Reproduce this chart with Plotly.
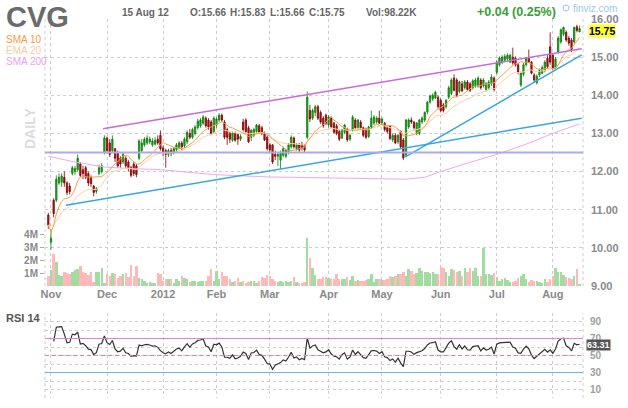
import plotly.graph_objects as go
import pandas as pd

# CVG daily, 31 Oct 2011 - 15 Aug 2012
holidays = ['2011-11-24', '2011-12-26', '2012-01-02', '2012-01-16',
            '2012-02-20', '2012-04-06', '2012-05-28', '2012-07-04']
dates = pd.bdate_range('2011-10-31', '2012-08-15')
dates = dates[~dates.isin(pd.to_datetime(holidays))]

opens = [10.86, 10.15, 11.25, 11.25, 11.70, 11.72, 11.85, 11.70, 11.62, 11.95,
         12.00, 12.05, 12.20, 12.05, 12.10, 11.95, 11.85, 11.62, 11.48, 11.95,
         12.00, 12.50, 12.88, 12.75, 12.55, 12.60, 12.50, 12.35, 12.25, 12.35,
         12.25, 12.10, 12.20, 12.15, 12.35, 12.55, 12.70, 12.75, 12.78, 12.70,
         12.72, 12.85, 12.95, 12.62, 12.55, 12.45, 12.55, 12.50, 12.58, 12.62,
         12.75, 12.68, 12.78, 13.00, 12.90, 13.00, 13.15, 13.20, 13.27, 13.40,
         13.35, 13.30, 13.05, 13.22, 13.35, 13.48, 13.30, 13.10, 13.00, 12.82,
         13.00, 12.97, 12.85, 13.30, 13.35, 13.15, 12.90, 12.95, 13.05, 13.20,
         13.15, 13.00, 12.90, 12.70, 12.70, 12.45, 12.40, 12.30, 12.43, 12.40,
         12.50, 12.65, 12.88, 12.60, 12.70, 12.70, 12.68, 12.90, 13.60, 13.40,
         13.55, 13.70, 13.55, 13.40, 13.48, 13.22, 13.40, 13.27, 13.20, 13.05,
         12.88, 13.03, 13.10, 12.85, 13.10, 13.35, 13.15, 13.30, 13.15, 13.10,
         12.92, 13.17, 13.27, 13.30, 13.40, 13.28, 13.27, 13.15, 13.20, 12.83,
         12.95, 12.78, 13.05, 12.83, 12.43, 13.17, 13.35, 13.30, 13.00, 13.00,
         13.30, 13.35, 13.56, 13.82, 13.90, 13.93, 13.95, 13.87, 13.75, 13.70,
         13.95, 14.05, 14.45, 14.40, 14.10, 14.30, 14.20, 14.35, 14.30, 14.20,
         14.25, 14.25, 14.40, 14.25, 14.15, 14.20, 14.30, 14.45, 14.60, 14.80,
         14.87, 14.92, 14.95, 14.87, 15.00, 14.97, 14.80, 14.27, 14.55, 14.80,
         14.97, 14.87, 14.53, 14.33, 14.53, 14.58, 14.65, 14.97, 15.27, 15.05,
         14.72, 15.13, 15.40, 15.60, 15.65, 15.50, 15.45, 15.40, 15.80, 15.66]

highs = [10.92, 10.48, 11.30, 11.90, 11.95, 11.95, 12.00, 11.75, 11.70, 12.15,
         12.15, 12.45, 12.25, 12.15, 12.15, 12.00, 11.90, 11.65, 11.60, 12.18,
         12.22, 12.95, 12.92, 12.85, 12.95, 12.62, 12.55, 12.40, 12.50, 12.40,
         12.30, 12.15, 12.25, 12.20, 12.85, 12.85, 12.90, 12.95, 12.92, 12.88,
         12.90, 12.95, 13.08, 12.68, 12.60, 12.60, 12.62, 12.65, 12.75, 12.80,
         12.80, 12.90, 13.08, 13.12, 13.15, 13.22, 13.38, 13.40, 13.48, 13.45,
         13.40, 13.35, 13.45, 13.42, 13.53, 13.52, 13.35, 13.15, 13.05, 13.05,
         13.05, 13.00, 12.98, 13.38, 13.40, 13.20, 13.12, 13.15, 13.25, 13.25,
         13.20, 13.05, 12.95, 12.75, 12.72, 12.55, 12.50, 12.55, 12.65, 12.60,
         12.75, 12.95, 12.92, 12.75, 12.75, 12.78, 12.72, 14.10, 13.75, 13.65,
         13.75, 13.75, 13.60, 13.45, 13.52, 13.48, 13.45, 13.30, 13.25, 13.10,
         13.12, 13.25, 13.15, 13.00, 13.48, 13.40, 13.38, 13.35, 13.18, 13.15,
         13.20, 13.60, 13.48, 13.45, 13.60, 13.42, 13.30, 13.20, 13.22, 13.00,
         13.00, 12.98, 13.08, 12.88, 13.38, 13.40, 13.42, 13.32, 13.30, 13.38,
         13.45, 13.58, 13.85, 14.02, 14.05, 14.12, 14.00, 13.92, 13.80, 13.90,
         14.25, 14.45, 14.55, 14.45, 14.38, 14.38, 14.40, 14.40, 14.35, 14.42,
         14.45, 14.50, 14.45, 14.45, 14.35, 14.40, 14.55, 14.50, 14.92, 15.02,
         15.05, 15.08, 15.10, 15.08, 15.25, 15.02, 14.85, 14.62, 14.85, 15.00,
         15.20, 14.90, 14.58, 14.55, 14.70, 14.78, 14.92, 15.05, 15.65, 15.10,
         15.00, 15.55, 15.75, 15.80, 15.70, 15.55, 15.50, 15.80, 15.85, 15.83]

lows = [10.50, 9.95, 10.80, 11.20, 11.65, 11.60, 11.60, 11.38, 11.40, 11.90,
        11.92, 12.00, 11.85, 11.80, 11.80, 11.62, 11.60, 11.35, 11.42, 11.90,
        11.95, 12.45, 12.48, 12.38, 12.50, 12.25, 12.10, 12.10, 12.20, 12.08,
        12.00, 11.85, 11.88, 11.85, 12.30, 12.50, 12.65, 12.70, 12.72, 12.65,
        12.68, 12.70, 12.55, 12.40, 12.10, 12.38, 12.40, 12.45, 12.52, 12.58,
        12.55, 12.62, 12.72, 12.85, 12.85, 12.95, 13.10, 13.15, 13.22, 13.15,
        13.10, 12.95, 13.00, 13.15, 13.30, 13.30, 12.85, 12.70, 12.75, 12.78,
        12.78, 12.70, 12.80, 13.05, 13.00, 12.75, 12.80, 12.90, 13.00, 13.00,
        12.95, 12.80, 12.55, 12.50, 12.20, 12.30, 12.15, 12.05, 12.38, 12.35,
        12.45, 12.60, 12.60, 12.55, 12.50, 12.55, 12.50, 12.85, 13.30, 13.35,
        13.45, 13.35, 13.25, 13.15, 13.22, 13.15, 13.15, 13.00, 12.95, 12.80,
        12.85, 12.98, 12.78, 12.80, 13.05, 13.12, 13.10, 13.10, 12.90, 12.85,
        12.88, 13.12, 13.22, 13.25, 13.25, 13.22, 13.05, 13.00, 12.82, 12.78,
        12.72, 12.72, 12.60, 12.30, 12.40, 13.12, 13.25, 13.10, 12.95, 12.95,
        13.25, 13.30, 13.50, 13.78, 13.85, 13.90, 13.65, 13.55, 13.55, 13.65,
        13.90, 14.00, 14.10, 13.95, 14.05, 14.08, 14.15, 14.12, 14.08, 14.15,
        14.20, 14.20, 14.15, 14.20, 14.10, 14.15, 14.25, 14.10, 14.55, 14.75,
        14.82, 14.88, 14.90, 14.85, 14.80, 14.75, 14.55, 14.22, 14.50, 14.75,
        14.85, 14.55, 14.35, 14.28, 14.48, 14.55, 14.60, 14.70, 14.80, 14.65,
        14.68, 15.10, 15.35, 15.55, 15.40, 15.30, 15.13, 15.35, 15.65, 15.66]

closes = [10.60, 10.25, 10.90, 11.80, 11.85, 11.88, 11.70, 11.45, 11.48, 12.10,
          12.08, 12.35, 11.90, 11.95, 11.85, 11.70, 11.68, 11.45, 11.55, 12.10,
          12.15, 12.88, 12.55, 12.45, 12.85, 12.35, 12.15, 12.20, 12.45, 12.15,
          12.10, 11.90, 11.95, 11.92, 12.80, 12.75, 12.85, 12.88, 12.85, 12.80,
          12.82, 12.75, 12.60, 12.50, 12.45, 12.55, 12.48, 12.60, 12.70, 12.75,
          12.65, 12.85, 13.03, 12.90, 13.10, 13.17, 13.32, 13.35, 13.43, 13.20,
          13.17, 13.00, 13.40, 13.38, 13.48, 13.35, 12.90, 12.90, 12.85, 13.00,
          12.82, 12.85, 12.92, 13.10, 13.05, 12.78, 13.08, 13.10, 13.22, 13.03,
          13.00, 12.83, 12.60, 12.57, 12.25, 12.40, 12.45, 12.50, 12.60, 12.55,
          12.70, 12.90, 12.65, 12.70, 12.57, 12.62, 12.57, 13.95, 13.38, 13.60,
          13.70, 13.40, 13.30, 13.20, 13.27, 13.43, 13.17, 13.03, 13.00, 12.85,
          13.10, 13.22, 12.83, 12.95, 13.43, 13.15, 13.35, 13.15, 12.95, 12.90,
          13.17, 13.40, 13.43, 13.40, 13.27, 13.38, 13.10, 13.05, 12.87, 12.95,
          12.75, 12.95, 12.65, 12.36, 13.35, 13.35, 13.30, 13.15, 13.27, 13.35,
          13.40, 13.55, 13.82, 13.98, 14.00, 14.08, 13.70, 13.60, 13.60, 13.87,
          14.20, 14.40, 14.13, 14.00, 14.35, 14.12, 14.35, 14.15, 14.13, 14.38,
          14.40, 14.45, 14.20, 14.40, 14.30, 14.35, 14.48, 14.15, 14.87, 14.98,
          15.00, 15.02, 15.05, 15.05, 14.85, 14.80, 14.60, 14.58, 14.80, 14.97,
          14.87, 14.58, 14.40, 14.50, 14.65, 14.73, 14.87, 14.75, 14.87, 14.72,
          14.95, 15.50, 15.72, 15.78, 15.45, 15.37, 15.20, 15.78, 15.70, 15.75]

# volume in millions of shares
volumes = [0.77, 1.23, 2.49, 1.87, 0.85, 0.77, 1.10, 1.03, 0.90, 1.10,
           1.23, 1.28, 1.54, 1.08, 1.03, 0.82, 1.10, 0.31, 1.10, 1.10,
           1.41, 0.26, 0.90, 0.77, 1.03, 0.90, 0.64, 0.77, 0.90, 1.03,
           0.72, 1.59, 0.77, 1.54, 0.64, 0.56, 0.38, 0.26, 0.31, 0.26,
           0.26, 1.03, 0.90, 0.38, 0.56, 0.56, 0.56, 0.21, 0.56, 0.38,
           0.77, 0.64, 0.51, 0.31, 0.38, 0.38, 0.31, 0.38, 0.38, 0.38,
           0.77, 1.28, 0.38, 1.15, 0.51, 1.08, 0.77, 0.77, 0.51, 0.31,
           0.38, 0.64, 0.31, 0.38, 0.26, 0.31, 0.38, 0.38, 0.26, 0.38,
           0.72, 0.64, 0.85, 0.77, 0.51, 0.38, 0.33, 0.38, 0.31, 0.38,
           0.31, 0.38, 0.69, 0.31, 0.26, 0.26, 0.30, 3.72, 2.18, 1.41,
           0.82, 0.51, 0.51, 0.72, 0.72, 0.64, 0.51, 0.51, 0.95, 0.51,
           0.51, 0.56, 0.72, 0.46, 0.77, 0.38, 0.45, 0.38, 0.38, 0.46,
           0.56, 0.95, 0.31, 0.56, 0.51, 0.46, 0.46, 0.51, 0.77, 0.69,
           0.77, 0.90, 0.95, 1.08, 0.77, 1.33, 1.15, 0.95, 1.03, 1.41,
           1.15, 1.08, 1.08, 1.03, 1.08, 0.90, 0.90, 1.49, 1.41, 1.08,
           0.77, 1.28, 1.21, 1.08, 1.13, 0.77, 1.36, 1.08, 1.41, 1.15,
           1.41, 0.77, 0.77, 2.95, 0.90, 0.90, 0.82, 1.03, 0.72, 0.38,
           0.51, 0.64, 0.44, 0.31, 0.31, 0.38, 0.64, 0.77, 0.90, 0.51,
           0.31, 0.46, 0.38, 0.38, 0.31, 0.26, 0.51, 0.31, 0.51, 0.77,
           1.41, 1.08, 1.08, 0.82, 0.69, 0.64, 0.56, 0.77, 1.28, 0.10]

# SMA 200 read at a few trading-day positions
sma200_days = [0, 10, 21, 30, 42, 62, 82, 104, 116, 125, 134, 141, 147, 156, 168, 179, 189, 199]
sma200_vals = [12.40, 12.25, 12.12, 12.08, 12.05, 11.92, 11.86, 11.83, 11.83, 11.80,
               11.80, 11.85, 12.00, 12.20, 12.45, 12.72, 13.00, 13.25]

# drawn trend lines: (day positions, prices)
upper_trend = ([20.5, 199.8], [13.12, 15.22])
lower_trend = ([6.6, 199.8], [11.12, 13.40])
may_trend = ([133.6, 199.8], [12.38, 15.06])
support_level = 12.50

month_labels = ['Nov', 'Dec', '2012', 'Feb', 'Mar', 'Apr', 'May', 'Jun', 'Jul', 'Aug']
price_ticks = [9, 10, 11, 12, 13, 14, 15, 16]
vol_ticks = [1, 2, 3, 4]
rsi_ticks = [10, 30, 50, 70, 90]
rsi_last = 63.31

header_date = '15 Aug 12'
header_ohlc = ['O:15.66', 'H:15.83', 'L:15.66', 'C:15.75']
header_vol = 'Vol:98.22K'
header_change = '+0.04 (0.25%)'

# ---- derived ----
pos = list(range(len(dates)))
month_pos = [i for i in pos if i > 0 and dates[i].month != dates[i - 1].month]

c = pd.Series(closes)
sma10 = c.rolling(10, min_periods=1).mean()
ema20 = c.ewm(span=20, adjust=False).mean()
delta = c.diff()
gain = delta.clip(lower=0).ewm(alpha=1 / 14, adjust=True).mean()
loss = (-delta.clip(upper=0)).ewm(alpha=1 / 14, adjust=True).mean()
rsi = 100 - 100 / (1 + gain / loss)
rsi[:2] = None

vol_colors = ['#a3dca3' if cl >= op else '#ffb9b9' for op, cl in zip(opens, closes)]

W, H = 628, 408
def px(x):
    return x / W
def py(y):
    return 1 - y / H

FONT = 'Arial, Liberation Sans, sans-serif'
GRID = '#cdcdcd'
DASH = '3px,3px'

fig = go.Figure()
fig.add_trace(go.Bar(x=pos, y=[v * 1e6 for v in volumes], marker_color=vol_colors,
                     marker_line_width=0, width=0.9, yaxis='y'))
fig.add_trace(go.Scatter(x=sma200_days, y=sma200_vals, mode='lines', yaxis='y2',
                         line=dict(color='#f2a6ee', width=1)))
fig.add_trace(go.Scatter(x=pos, y=ema20, mode='lines', yaxis='y2',
                         line=dict(color='#fcd0a4', width=1)))
fig.add_trace(go.Scatter(x=pos, y=sma10, mode='lines', yaxis='y2',
                         line=dict(color='#f8a050', width=1)))
fig.add_trace(go.Candlestick(x=pos, open=opens, high=highs, low=lows, close=closes, yaxis='y2',
                             whiskerwidth=0,
                             increasing=dict(line=dict(color='#0a7a0a', width=0.8), fillcolor='#19b519'),
                             decreasing=dict(line=dict(color='#7a0000', width=0.8), fillcolor='#cc1414')))
fig.add_trace(go.Scatter(x=pos, y=rsi, mode='lines', xaxis='x2', yaxis='y3',
                         line=dict(color='#333333', width=1.2)))

shapes = []
for xs, ys, col in [(upper_trend[0], upper_trend[1], '#c86ad8'),
                    (lower_trend[0], lower_trend[1], '#3aa6e0'),
                    (may_trend[0], may_trend[1], '#3aa6e0')]:
    shapes.append(dict(type='line', xref='x', yref='y2', x0=xs[0], x1=xs[1], y0=ys[0], y1=ys[1],
                       line=dict(color=col, width=1.5)))
shapes.append(dict(type='line', xref='x domain', yref='y2', x0=0, x1=1, y0=support_level, y1=support_level,
                   line=dict(color='#aaaaec', width=2)))
# rsi levels
shapes.append(dict(type='line', xref='x2 domain', yref='y3', x0=0, x1=1, y0=70, y1=70,
                   line=dict(color='#de82e0', width=1.2)))
shapes.append(dict(type='line', xref='x2 domain', yref='y3', x0=0, x1=1, y0=50, y1=50,
                   line=dict(color='#f08080', width=1, dash='4px,3px')))
shapes.append(dict(type='line', xref='x2 domain', yref='y3', x0=0, x1=1, y0=30, y1=30,
                   line=dict(color='#6ab6e6', width=1.2)))
# dashed frame sides
for xa, ya in [('x', 'y2'), ('x2', 'y3')]:
    for xv in [0, 1]:
        shapes.append(dict(type='line', xref=xa + ' domain', yref=ya + ' domain', x0=xv, x1=xv, y0=0, y1=1,
                           layer='below', line=dict(color=GRID, width=1, dash=DASH)))
# finviz logo mark
shapes.append(dict(type='circle', xref='paper', yref='paper', x0=px(563), x1=px(569), y0=py(11), y1=py(5),
                   line=dict(color='#9cc8e8', width=1)))

ann = []
def txt(x, y, s, size, color, bold=False, xanchor='left', **kw):
    ann.append(dict(xref='paper', yref='paper', x=px(x), y=py(y), text=s, showarrow=False,
                    xanchor=xanchor, yanchor='middle',
                    font=dict(family=FONT, size=size, color=color, weight='bold' if bold else 'normal'), **kw))

txt(4, 17, 'CVG', 29, '#6b6b6b', True)
txt(4, 40, 'SMA 10', 10, '#f99a45')
txt(4, 50.5, 'EMA 20', 10, '#f7cd9f')
txt(4, 61, 'SMA 200', 10, '#e9a4e9')
txt(30, 129, 'DAILY', 14, '#dcdcdc', True, xanchor='center', textangle=-90)
txt(120, 12, header_date, 10, '#666666', True)
for x0, s in zip([188, 228, 268, 307], header_ohlc):
    txt(x0, 12, s, 10, '#666666', True)
txt(364, 12, header_vol, 10, '#666666', True)
txt(475, 12, header_change, 12.5, '#36a036', True)
txt(571, 8, 'finviz.com', 10, '#9cc8e8')
txt(4, 318, 'RSI 14', 11, '#555555', True)

ann.append(dict(xref='paper', yref='y2', x=px(588), y=closes[-1], yshift=-2, text='<b>%.2f</b>' % closes[-1],
                showarrow=False, xanchor='left', yanchor='middle', bgcolor='#ffff2e', borderpad=0,
                font=dict(family=FONT, size=10.5, color='#000000')))
ann.append(dict(xref='paper', yref='y3', x=px(586), y=rsi_last, yshift=-1, text='<b>%.2f</b>' % rsi_last,
                showarrow=False, xanchor='left', yanchor='middle', bgcolor='#555555', borderpad=0,
                font=dict(family=FONT, size=9, color='#ffffff')))

xdom = [px(45), px(583)]
xrange_ = [-1.24, 200.3]
fig.update_layout(
    width=W, height=H, margin=dict(l=0, r=0, t=0, b=0, autoexpand=False),
    paper_bgcolor='white', plot_bgcolor='white', showlegend=False,
    font=dict(family=FONT), bargap=0,
    shapes=shapes, annotations=ann,
    xaxis=dict(domain=xdom, range=xrange_, anchor='y', tickvals=month_pos, ticktext=month_labels,
               showgrid=True, gridcolor=GRID, griddash=DASH, zeroline=False, showline=False, ticks='',
               automargin=False,
               tickfont=dict(size=11, color='#8a8a8a', weight='bold'), rangeslider=dict(visible=False)),
    xaxis2=dict(domain=xdom, range=xrange_, anchor='y3', tickvals=month_pos, showticklabels=False,
                showgrid=True, gridcolor=GRID, griddash=DASH, zeroline=False, showline=False, ticks='',
                automargin=False),
    yaxis=dict(domain=[py(286), py(19)], range=[0, 267 / 13 * 1e6], side='left',
               tickvals=[v * 1e6 for v in vol_ticks], ticktext=['%dM' % v for v in vol_ticks],
               showgrid=False, zeroline=False, ticks='outside', ticklen=4, tickcolor='#aaaaaa',
               automargin=False, tickfont=dict(size=10, color='#8a8a8a', weight='bold')),
    yaxis2=dict(domain=[py(286), py(19)], range=[9, 16], overlaying='y', side='right', anchor='x',
                tickvals=price_ticks, ticktext=['%.2f' % v for v in price_ticks],
                showgrid=True, gridcolor=GRID, griddash=DASH, zeroline=False, ticks='', automargin=False,
                ticklabelstandoff=7, tickfont=dict(size=11, color='#8a8a8a', weight='bold')),
    yaxis3=dict(domain=[py(398), py(313)], range=[0, 100], side='right', anchor='x2',
                tickvals=rsi_ticks, showgrid=True, gridcolor=GRID, griddash=DASH, zeroline=False,
                ticks='', ticklabelstandoff=6, automargin=False,
                tickfont=dict(size=10, color='#a0a0a0', weight='bold'),
                minor=dict(dtick=10, tick0=0, showgrid=True, gridcolor=GRID, griddash=DASH)),
)

# page body has a default margin; drop it so the figure sits at the window's corner
fig.write_html('out.html', config={'displayModeBar': False},
               post_script="document.body.style.margin='0';")
